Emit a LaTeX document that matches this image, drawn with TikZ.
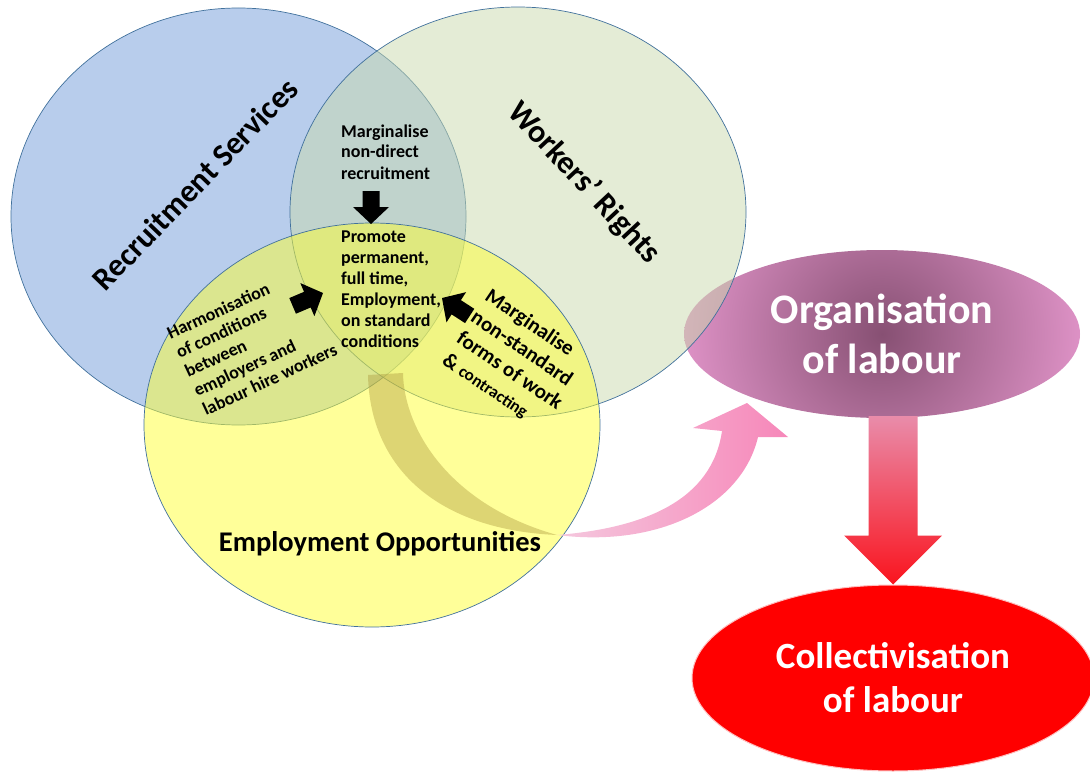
\documentclass[tikz,border=0pt]{standalone}
\usepackage{fontspec}
\setmainfont{Carlito}
\usetikzlibrary{shapes.geometric,calc}

\definecolor{rsblue}{RGB}{184,205,236}
\definecolor{wrgreen}{RGB}{201,217,173}
\definecolor{eoyellow}{RGB}{255,255,51}
\definecolor{vennline}{RGB}{65,113,156}
\definecolor{orgin}{RGB}{135,80,115}
\definecolor{orgout}{RGB}{222,146,198}
\definecolor{pinkL}{RGB}{245,200,222}
\definecolor{pinkR}{RGB}{246,135,185}
\definecolor{khaki}{RGB}{170,150,60}
\definecolor{redtop}{RGB}{233,140,170}
\definecolor{redbot}{RGB}{250,20,30}
\definecolor{redrim}{RGB}{255,190,190}

\tikzset{
  vennset/.style={ellipse, draw=vennline, line width=0.7pt, inner sep=0pt},
  smalltxt/.style={font=\fontsize{18}{21}\selectfont\bfseries, inner sep=0pt, align=left},
  midtxt/.style={font=\fontsize{21}{25.5}\selectfont\bfseries, inner sep=0pt, align=left},
  titletxt/.style={font=\fontsize{32}{38}\selectfont\bfseries, inner sep=0pt},
  blockarrow/.pic={\fill[black] (0,0) -- (-17,-18) -- (-17,-8.5) -- (-33,-8.5)
      -- (-33,8.5) -- (-17,8.5) -- (-17,18) -- cycle;}
}

\begin{document}
\begin{tikzpicture}[x=1pt,y=-1pt]
\useasboundingbox (0,0) rectangle (1090,773);

% collectivisation ellipse
\node[ellipse, fill=red, draw=redrim, line width=1pt, minimum width=402pt, minimum height=186pt,
      inner sep=0pt, text=white, align=center, font=\fontsize{37}{44}\selectfont\bfseries]
      (col) at (893,678) {Collectivisation\\of labour};

% organisation ellipse, shaded with a round glow from its centre
\node[ellipse, minimum width=396pt, minimum height=168pt,
      path picture={\shade[inner color=orgin, outer color=orgout]
        (path picture bounding box.center) circle [radius=200];},
      inner sep=0pt, text=white, align=center, font=\fontsize{42}{50}\selectfont\bfseries]
      (org) at (882,334) {Organisation\\of labour};

% downward arrow from organisation to collectivisation
\coordinate (a) at (org.south -| col.north);
\path[top color=redtop, bottom color=redbot]
  (col.north) -- ($(col.north)+(49,-49)$) -- ($(col.north)+(24.5,-49)$)
  -- ($(a)+(24.5,-2)$) -- ($(a)+(-24.5,-2)$)
  -- ($(col.north)+(-24.5,-49)$) -- ($(col.north)+(-49,-49)$) -- cycle;

% the three sets
\node[vennset, fill=rsblue, minimum width=455pt, minimum height=417pt] (rs) at (238.5,216.5) {};
\node[vennset, fill=wrgreen, fill opacity=0.5, minimum width=456pt, minimum height=410pt] (wr) at (518,212) {};
\node[vennset, fill=eoyellow, fill opacity=0.5, minimum width=456pt, minimum height=404pt] (eo) at (372,425) {};

% curved arrow from the overlap towards the organisation ellipse
\coordinate (bend) at (557,535);
\coordinate (tip) at (747,403);
\fill[khaki, fill opacity=0.4] (368,375) -- (403,373) .. controls (404,430) and (450,505) .. (bend)
  .. controls (440,530) and (370,470) .. cycle;
\path[left color=pinkL, right color=pinkR] (bend) .. controls (645,528) and (712,500) .. (722,431)
  -- (693,428) -- (tip) -- (788,437) -- (758,437) .. controls (742,505) and (660,548) .. (bend) -- cycle;

% titles of the sets
\node[titletxt, rotate=46] (rst) at (195,184) {Recruitment Services};
\node[titletxt, rotate=-47] (wrt) at (584,183) {Workers’ Rights};
\node[font=\fontsize{28.5}{34}\selectfont\bfseries, inner sep=0pt] (eot) at (380,544) {Employment Opportunities};

% texts in the overlaps (placed by the baseline of their last line)
\node[smalltxt, anchor=base west] (nd) at (341,179) {Marginalise\\non-direct\\recruitment};
\node[smalltxt, anchor=base west] (pm) at (341,347) {Promote\\permanent,\\full time,\\Employment,\\on standard\\conditions};
\node[smalltxt, anchor=base west, rotate=25] (hm) at (206,416) {Harmonisation\\of conditions\\between\\employers and\\labour hire workers};
\node[midtxt, anchor=base west, rotate=-34] (ns) at (441,363) {Marginalise\\non-standard\\forms of work\\\& {\fontsize{17}{20}\selectfont contracting}};

% block arrows pointing at the central aim
\pic[rotate=-90] at (371,224) {blockarrow};
\pic[rotate=23] at (323,293) {blockarrow};
\pic[rotate=147] at (442,298) {blockarrow};
\end{tikzpicture}
\end{document}
